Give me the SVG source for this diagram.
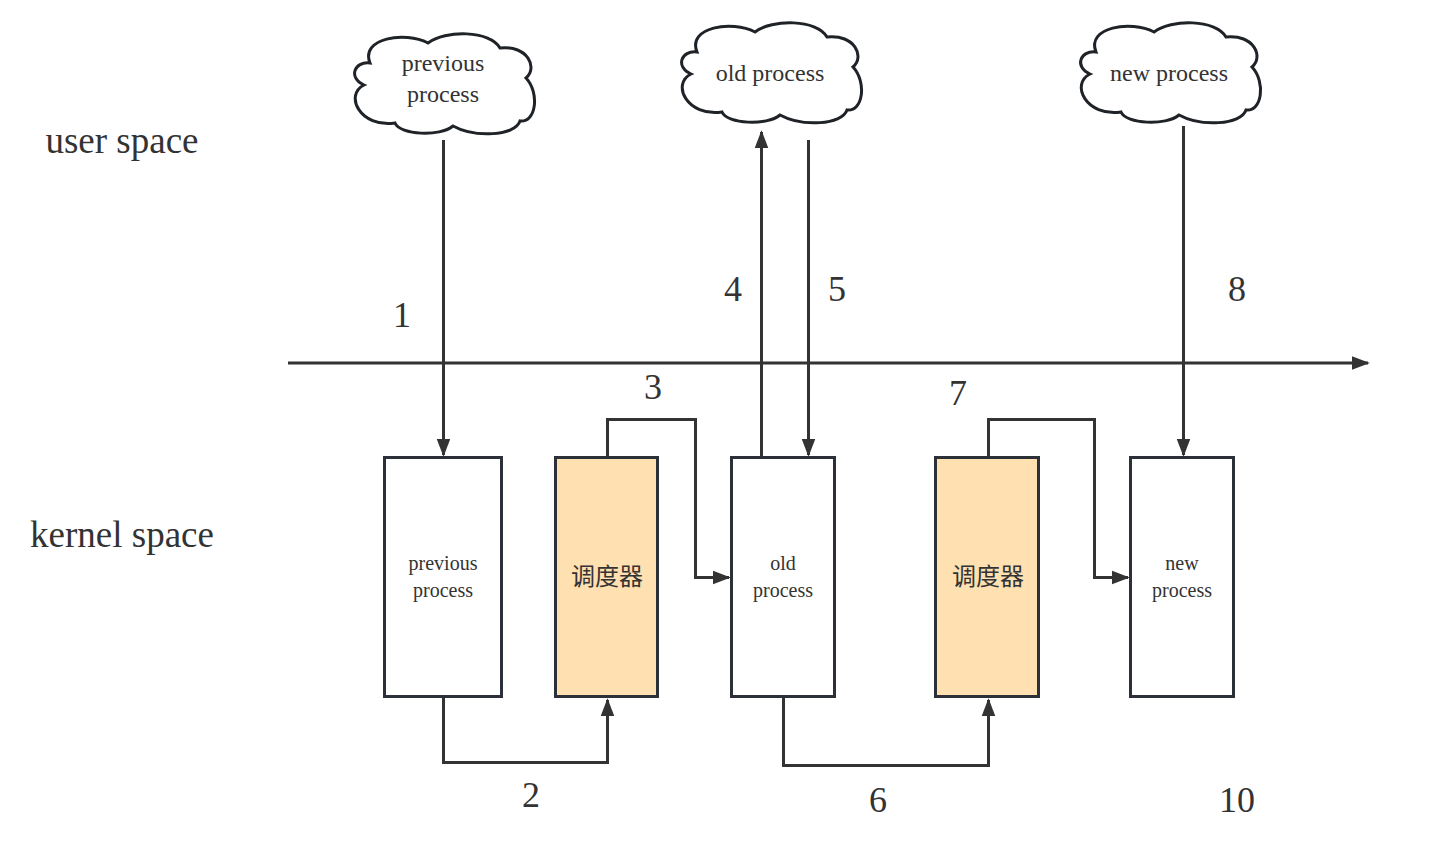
<svg xmlns="http://www.w3.org/2000/svg" width="1442" height="842" viewBox="0 0 1442 842">
  <style>
    .line { fill: none; stroke: #333333; stroke-width: 3; }
    .box { fill: #ffffff; stroke: #2c3038; stroke-width: 3; }
    .sched { fill: #fee0b1; stroke: #2c3038; stroke-width: 3; }
    .cloud { fill: #ffffff; stroke: #1f2328; stroke-width: 3; }
    .t { font-family: "Liberation Serif", "Noto Serif", serif; fill: #333333; text-anchor: middle; }
    .big { font-size: 36px; }
    .lbl { font-size: 37px; }
    .ct { font-size: 24px; }
    .bt { font-size: 20px; }
    .cn { font-family: "Noto Sans CJK SC", "Liberation Sans", sans-serif; font-size: 24px; fill: #333333; text-anchor: middle; }
  </style>
  <defs>
    <marker id="arr" viewBox="0 0 10 10" refX="9" refY="5" markerWidth="6" markerHeight="6" orient="auto" markerUnits="strokeWidth">
      <path d="M0 1.2 L10 5 L0 8.8 Z" fill="#333333"/>
    </marker>
    <path id="cloudShape" d="M 20 30 C 10 5, 55 -2, 78 10 C 95 -3, 140 -3, 150 15 C 178 12, 188 35, 176 45 C 190 60, 186 90, 170 88 C 165 103, 125 105, 103 93 C 90 104, 50 102, 45 90 C 10 95, -6 62, 14 52 C -2 45, 4 28, 20 30 Z"/>
  </defs>

  <!-- side labels -->
  <text class="t lbl" x="122" y="153">user space</text>
  <text class="t lbl" x="122" y="547">kernel space</text>

  <!-- user-space clouds -->
  <g id="cloud-previous">
    <use href="#cloudShape" class="cloud" transform="translate(350,33)"/>
    <text class="t ct" x="443" y="71">previous</text>
    <text class="t ct" x="443" y="102">process</text>
  </g>
  <g id="cloud-old">
    <use href="#cloudShape" class="cloud" transform="translate(677,22)"/>
    <text class="t ct" x="770" y="81">old process</text>
  </g>
  <g id="cloud-new">
    <use href="#cloudShape" class="cloud" transform="translate(1076,22)"/>
    <text class="t ct" x="1169" y="81">new process</text>
  </g>

  <!-- kernel-space boxes -->
  <g id="box-previous">
    <rect class="box" x="384.5" y="457.5" width="117" height="239"/>
    <text class="t bt" x="443" y="570">previous</text>
    <text class="t bt" x="443" y="597">process</text>
  </g>
  <g id="box-sched-1">
    <rect class="sched" x="555.5" y="457.5" width="102" height="239"/>
    <text class="cn" x="607" y="585">调度器</text>
  </g>
  <g id="box-old">
    <rect class="box" x="731.5" y="457.5" width="103" height="239"/>
    <text class="t bt" x="783" y="570">old</text>
    <text class="t bt" x="783" y="597">process</text>
  </g>
  <g id="box-sched-2">
    <rect class="sched" x="935.5" y="457.5" width="103" height="239"/>
    <text class="cn" x="988" y="585">调度器</text>
  </g>
  <g id="box-new">
    <rect class="box" x="1130.5" y="457.5" width="103" height="239"/>
    <text class="t bt" x="1182" y="570">new</text>
    <text class="t bt" x="1182" y="597">process</text>
  </g>

  <!-- connectors -->
  <g id="connectors">
    <path class="line" d="M288 363 H1368" marker-end="url(#arr)"/>
    <path class="line" d="M443.5 140 V455" marker-end="url(#arr)"/>
    <path class="line" d="M443.5 698 V762.5 H607.5 V700" marker-end="url(#arr)"/>
    <path class="line" d="M607.5 456 V419.5 H695.5 V577.5 H729" marker-end="url(#arr)"/>
    <path class="line" d="M761.5 456 V132" marker-end="url(#arr)"/>
    <path class="line" d="M808.5 140 V455" marker-end="url(#arr)"/>
    <path class="line" d="M783.5 698 V765.5 H988.5 V700" marker-end="url(#arr)"/>
    <path class="line" d="M988.5 456 V419.5 H1094.5 V577.5 H1128" marker-end="url(#arr)"/>
    <path class="line" d="M1183.5 126 V455" marker-end="url(#arr)"/>
  </g>

  <!-- step numbers -->
  <text class="t big" x="402" y="327">1</text>
  <text class="t big" x="531" y="807">2</text>
  <text class="t big" x="653" y="399">3</text>
  <text class="t big" x="733" y="301">4</text>
  <text class="t big" x="837" y="301">5</text>
  <text class="t big" x="878" y="812">6</text>
  <text class="t big" x="958" y="405">7</text>
  <text class="t big" x="1237" y="301">8</text>
  <text class="t big" x="1237" y="812">10</text>
</svg>
